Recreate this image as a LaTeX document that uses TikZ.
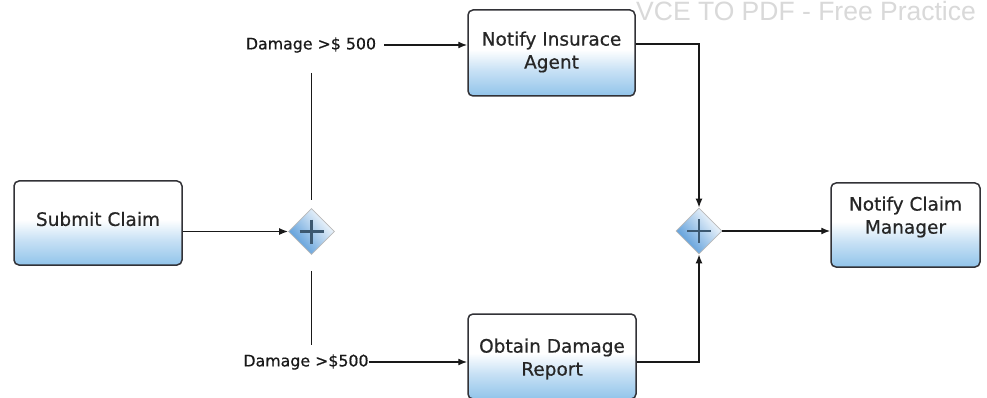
\documentclass[tikz,border=0pt]{standalone}
\usepackage{fontspec}
\setmainfont{DejaVu Sans}
\newfontfamily\boxfont[FakeBold=0.6]{DejaVu Sans}
\newfontfamily\wmfont{Liberation Sans}
\usetikzlibrary{shapes.geometric,arrows.meta,calc}
\definecolor{bblue}{RGB}{145,196,234}
\definecolor{lblue}{RGB}{200,225,245}
\definecolor{gblue}{RGB}{80,150,215}
\definecolor{plusc}{RGB}{60,88,112}
\definecolor{bordc}{RGB}{50,50,55}
\pgfdeclareverticalshading{boxshade}{100bp}{color(0bp)=(bblue); color(25bp)=(bblue); color(40bp)=(lblue); color(52bp)=(white); color(75bp)=(white); color(100bp)=(white)}
\tikzset{
  box/.style={draw=bordc, line width=1.5pt, rounded corners=5pt, shade, shading=boxshade, inner sep=0pt},
  boxtext/.style={font=\boxfont\fontsize{18.5}{23}\selectfont, text=black!85, align=center, inner sep=0pt},
  lab/.style={font=\boxfont\fontsize{15.8}{18}\selectfont, text=black!90, inner sep=0pt},
  gw/.style={diamond, draw=gray!55, line width=0.8pt, minimum width=46pt, minimum height=46pt, inner sep=0pt, top color=white, bottom color=gblue, shading angle=-50},
  conn/.style={line width=1.4pt, draw=black!90},
  arr/.style={conn, -{Latex[length=9pt,width=7pt]}},
  plusline/.style={line width=2.8pt, draw=plusc}
}
\begin{document}
\begin{tikzpicture}[x=1pt,y=-1pt]
\useasboundingbox (0,0) rectangle (987,398);
\fill[white] (0,0) rectangle (987,398);
% watermark
\node[anchor=base west, text=gray!30, font=\wmfont\fontsize{26.5}{30}\selectfont, inner sep=0pt] (wm) at (636,21) {VCE TO PDF - Free Practice};
% boxes
\node[box, minimum width=168pt, minimum height=84pt] (submit) at (98,223) {};
\node[boxtext] (submitT) at (98,219) {Submit Claim};
\node[box, minimum width=167pt, minimum height=86pt] (insur) at (551.5,53) {};
\node[boxtext] (insurT) at (551.5,52) {Notify Insurace\\Agent};
\node[box, minimum width=168pt, minimum height=85pt] (obtain) at (552,356.5) {};
\node[boxtext] (obtainT) at (552,359) {Obtain Damage\\Report};
\node[box, minimum width=149pt, minimum height=84pt] (manager) at (905.5,225) {};
\node[boxtext] (managerT) at (905.5,217) {Notify Claim\\Manager};
% gateways
\node[gw] (g1) at (311.5,231.5) {};
\draw[plusline] ($(g1)+(-12,0)$) -- ($(g1)+(12,0)$);
\draw[plusline] ($(g1)+(0,-12)$) -- ($(g1)+(0,12)$);
\node[gw] (g2) at (699,231) {};
\draw[plusline] ($(g2)+(-12,0)$) -- ($(g2)+(12,0)$);
\draw[plusline] ($(g2)+(0,-12)$) -- ($(g2)+(0,12)$);
% labels
\node[lab] (lab1) at (311,45) {Damage >\$ 500};
\node[lab] (lab2) at (306,362) {Damage >\$500};
% connectors
\draw[arr] (submit.east |- g1) -- (g1.west);
\draw[conn, shorten <=20pt, shorten >=8pt] (lab1.south -| g1) -- (g1.north);
\draw[conn, shorten <=16pt, shorten >=9pt] (g1.south) -- (lab2.north -| g1);
\draw[arr, shorten <=8pt] (lab1.east) -- (insur.west |- lab1.east);
\draw[arr] (lab2.east) -- (obtain.west |- lab2.east);
\draw[arr] ([yshift=9pt]insur.east) -| (g2.north);
\draw[arr] ([yshift=-5.5pt]obtain.east) -| (g2.south);
\draw[arr] (g2.east) -- (manager.west |- g2.east);
\end{tikzpicture}
\end{document}
